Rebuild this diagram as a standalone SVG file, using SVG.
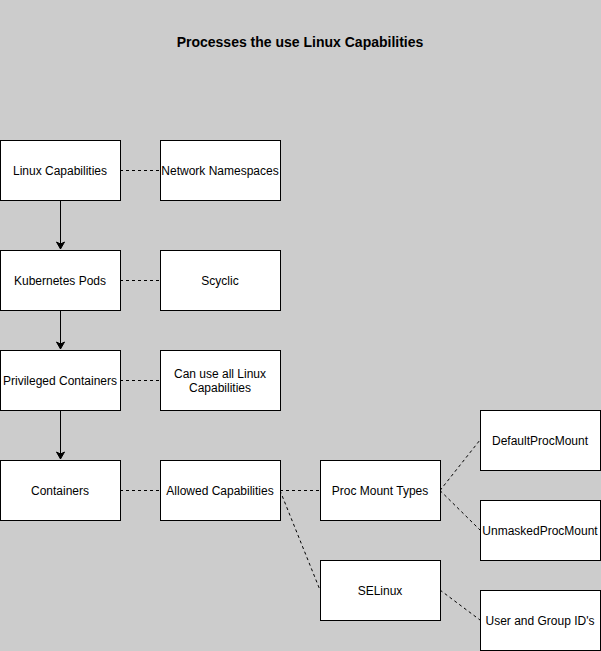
<svg xmlns="http://www.w3.org/2000/svg" width="601" height="651" viewBox="0 0 601 651">
<style>
.box{fill:#fff;stroke:#000;stroke-width:1}
.lbl{font-family:"Liberation Sans",Arial,sans-serif;font-size:12px;fill:#000;text-anchor:middle}
.dash{fill:none;stroke:#000;stroke-width:1;stroke-dasharray:3,3}
.solid{fill:none;stroke:#000;stroke-width:1}
.title{font-family:"Liberation Sans",Arial,sans-serif;font-size:14px;font-weight:bold;fill:#000;text-anchor:middle}
</style>
<defs>
<marker id="arr" markerWidth="10" markerHeight="10" refX="8" refY="5" orient="auto" markerUnits="userSpaceOnUse">
<path d="M1,1 L8,5 L1,9 L3,5 Z" fill="#000" stroke="#000" stroke-width="1"/>
</marker>
</defs>
<rect x="0" y="0" width="601" height="651" fill="#cccccc"/>
<text class="title" x="300" y="47">Processes the use Linux Capabilities</text>
<g id="connectors">
<path class="solid" d="M60.5,200 V249" marker-end="url(#arr)"/>
<path class="solid" d="M60.5,310 V349" marker-end="url(#arr)"/>
<path class="solid" d="M60.5,410 V459" marker-end="url(#arr)"/>
<path class="dash" d="M120,170.5 H160"/>
<path class="dash" d="M120,280.5 H160"/>
<path class="dash" d="M120,380.5 H160"/>
<path class="dash" d="M120,490.5 H160"/>
<path class="dash" d="M280,490.5 H320"/>
<path class="dash" d="M280,490.5 L320,590"/>
<path class="dash" d="M440,490.5 L480,440"/>
<path class="dash" d="M440,490.5 L480,530"/>
<path class="dash" d="M440,590 L480,620"/>
</g>
<g id="linux-capabilities"><rect class="box" x="0.5" y="140.5" width="120" height="60"/><text class="lbl" x="60" y="175">Linux Capabilities</text></g>
<g id="network-namespaces"><rect class="box" x="160.5" y="140.5" width="120" height="60"/><text class="lbl" x="220" y="175">Network Namespaces</text></g>
<g id="kubernetes-pods"><rect class="box" x="0.5" y="250.5" width="120" height="60"/><text class="lbl" x="60" y="285">Kubernetes Pods</text></g>
<g id="scyclic"><rect class="box" x="160.5" y="250.5" width="120" height="60"/><text class="lbl" x="220" y="285">Scyclic</text></g>
<g id="privileged-containers"><rect class="box" x="0.5" y="350.5" width="120" height="60"/><text class="lbl" x="60" y="385">Privileged Containers</text></g>
<g id="can-use-all"><rect class="box" x="160.5" y="350.5" width="120" height="60"/><text class="lbl" x="220" y="378">Can use all Linux</text><text class="lbl" x="220" y="392">Capabilities</text></g>
<g id="containers"><rect class="box" x="0.5" y="460.5" width="120" height="60"/><text class="lbl" x="60" y="495">Containers</text></g>
<g id="allowed-capabilities"><rect class="box" x="160.5" y="460.5" width="120" height="60"/><text class="lbl" x="220" y="495">Allowed Capabilities</text></g>
<g id="proc-mount-types"><rect class="box" x="320.5" y="460.5" width="120" height="60"/><text class="lbl" x="380" y="495">Proc Mount Types</text></g>
<g id="selinux"><rect class="box" x="320.5" y="560.5" width="120" height="60"/><text class="lbl" x="380" y="595">SELinux</text></g>
<g id="default-proc-mount"><rect class="box" x="480.5" y="410.5" width="120" height="60"/><text class="lbl" x="540" y="445">DefaultProcMount</text></g>
<g id="unmasked-proc-mount"><rect class="box" x="480.5" y="500.5" width="120" height="60"/><text class="lbl" x="540" y="535">UnmaskedProcMount</text></g>
<g id="user-group-ids"><rect class="box" x="480.5" y="590.5" width="120" height="60"/><text class="lbl" x="540" y="625">User and Group ID's</text></g>
</svg>
